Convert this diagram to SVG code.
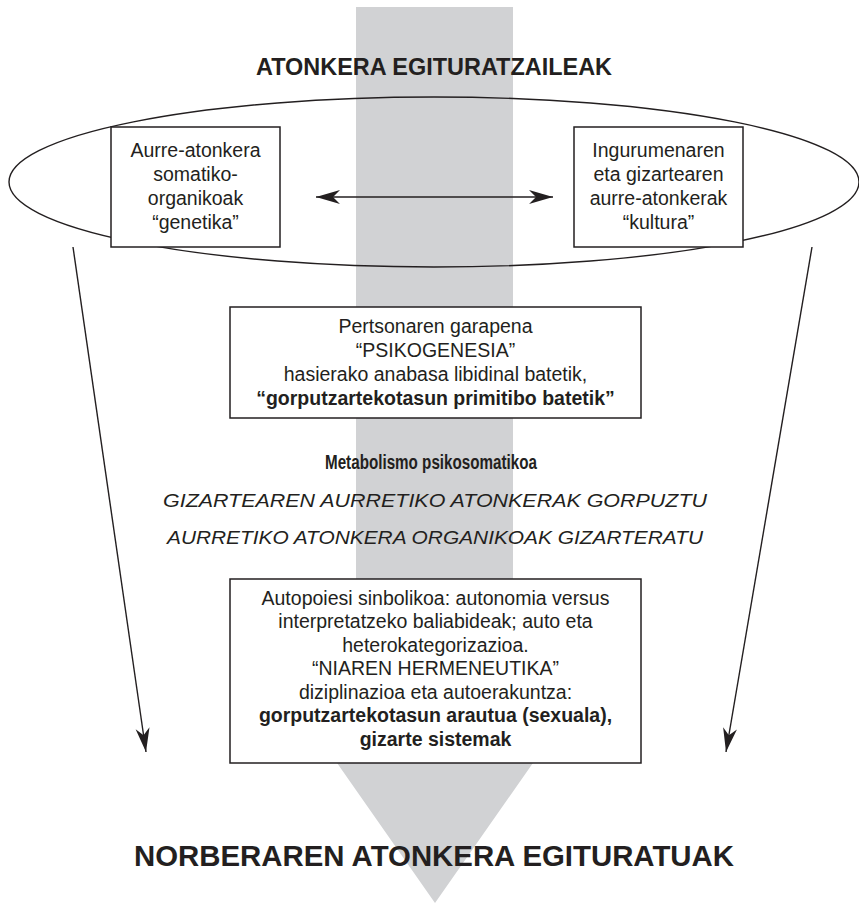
<svg xmlns="http://www.w3.org/2000/svg" width="859" height="904" viewBox="0 0 859 904">
<defs>
<marker id="ah" markerUnits="userSpaceOnUse" markerWidth="30" markerHeight="20" viewBox="-26 -10 30 20" refX="0" refY="0" orient="auto-start-reverse">
<path d="M0 0 L-24 -7 L-17 0 L-24 7 Z" fill="#231f20"/>
</marker>
<style>
.box{fill:#fff;stroke:#231f20;stroke-width:1.5}
.t{font-family:"Liberation Sans",Arial,sans-serif;font-size:19.5px;fill:#231f20;text-anchor:middle}
.b{font-weight:bold}
.i{font-style:italic;font-size:19px}
.title{font-family:"Liberation Sans",Arial,sans-serif;font-weight:bold;fill:#231f20;text-anchor:middle}
.ln{stroke:#231f20;stroke-width:1.4;fill:none}
</style>
</defs>
<rect width="859" height="904" fill="#fff"/>
<g id="big-arrow">
<path d="M356 7 H513 V640 H619 L435 903 L251 640 H356 Z" fill="#d1d2d4"/>
</g>
<g id="title-top">
<text class="title" x="434" y="75" font-size="24" textLength="356" lengthAdjust="spacingAndGlyphs">ATONKERA EGITURATZAILEAK</text>
</g>
<g id="ellipse">
<ellipse cx="434" cy="182" rx="425" ry="85" class="ln" stroke-width="1.3"/>
</g>
<g id="connectors">
<line x1="316" y1="197" x2="553" y2="197" class="ln" marker-start="url(#ah)" marker-end="url(#ah)"/>
<line x1="73" y1="247" x2="146" y2="752" class="ln" marker-end="url(#ah)"/>
<line x1="812" y1="247" x2="726" y2="752" class="ln" marker-end="url(#ah)"/>
</g>
<g id="node-genetika">
<rect class="box" x="111" y="127" width="169" height="120"/>
<text class="t" x="195.5" y="157">Aurre-atonkera</text>
<text class="t" x="195.5" y="181">somatiko-</text>
<text class="t" x="195.5" y="205">organikoak</text>
<text class="t" x="195.5" y="229">“genetika”</text>
</g>
<g id="node-kultura">
<rect class="box" x="574" y="127" width="169" height="120"/>
<text class="t" x="658.5" y="157">Ingurumenaren</text>
<text class="t" x="658.5" y="181">eta gizartearen</text>
<text class="t" x="658.5" y="205">aurre-atonkerak</text>
<text class="t" x="658.5" y="229">“kultura”</text>
</g>
<g id="node-psikogenesia">
<rect class="box" x="230" y="307" width="411" height="111"/>
<text class="t" x="435.5" y="333">Pertsonaren garapena</text>
<text class="t" x="435.5" y="357">“PSIKOGENESIA”</text>
<text class="t" x="435.5" y="381">hasierako anabasa libidinal batetik,</text>
<text class="t b" x="435.5" y="405">“gorputzartekotasun primitibo batetik”</text>
</g>
<g id="metabolismo">
<text class="t b" x="431" y="469" font-size="16" textLength="212" lengthAdjust="spacingAndGlyphs">Metabolismo psikosomatikoa</text>
<text class="t i" x="435" y="507" textLength="544" lengthAdjust="spacingAndGlyphs">GIZARTEAREN AURRETIKO ATONKERAK GORPUZTU</text>
<text class="t i" x="435" y="544" textLength="536" lengthAdjust="spacingAndGlyphs">AURRETIKO ATONKERA ORGANIKOAK GIZARTERATU</text>
</g>
<g id="node-hermeneutika">
<rect class="box" x="230" y="579" width="411" height="184"/>
<text class="t" x="435.5" y="605">Autopoiesi sinbolikoa: autonomia versus</text>
<text class="t" x="435.5" y="628">interpretatzeko baliabideak; auto eta</text>
<text class="t" x="435.5" y="652">heterokategorizazioa.</text>
<text class="t" x="435.5" y="675">“NIAREN HERMENEUTIKA”</text>
<text class="t" x="435.5" y="699">diziplinazioa eta autoerakuntza:</text>
<text class="t b" x="435.5" y="722">gorputzartekotasun arautua (sexuala),</text>
<text class="t b" x="435.5" y="746">gizarte sistemak</text>
</g>
<g id="title-bottom">
<text class="title" x="434" y="866" font-size="29" textLength="600" lengthAdjust="spacingAndGlyphs">NORBERAREN ATONKERA EGITURATUAK</text>
</g>
</svg>
